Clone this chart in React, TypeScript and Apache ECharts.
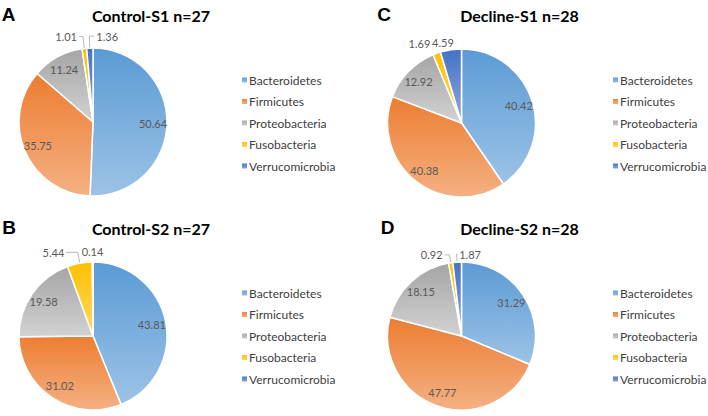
import React, { useEffect, useRef } from "react";
import * as echarts from "echarts";

const categories = ["Bacteroidetes", "Firmicutes", "Proteobacteria", "Fusobacteria", "Verrucomicrobia"];
const controlS1 = [50.64, 35.75, 11.24, 1.01, 1.36];
const controlS2 = [43.81, 31.02, 19.58, 5.44, 0.14];
const declineS1 = [40.42, 40.38, 12.92, 1.69, 4.59];
const declineS2 = [31.29, 47.77, 18.15, 0.92, 1.87];
const panelTitles = ["Control-S1 n=27", "Control-S2 n=27", "Decline-S1 n=28", "Decline-S2 n=28"];
const panelLetters = ["A", "B", "C", "D"];
const panelValues = [controlS1, controlS2, declineS1, declineS2];

const GRADS: [string, string][] = [
  ["#5B9BD5", "#9DC3E6"],
  ["#ED7D31", "#F4B183"],
  ["#A5A5A5", "#D2D2D2"],
  ["#FFC000", "#FFD966"],
  ["#4472C4", "#8FAADC"],
];

const R = 74;
const FONT = "Lato, 'Open Sans', sans-serif";

const LAYOUT = [
  { cx: 93, cy: 122, legendLeft: 240, legendTop: 73, titleX: 151, titleY: 15, letterX: 8.5, letterY: 14 },
  { cx: 93, cy: 336, legendLeft: 240, legendTop: 286, titleX: 151, titleY: 228, letterX: 9, letterY: 227 },
  { cx: 461.5, cy: 123, legendLeft: 611, legendTop: 73, titleX: 519.5, titleY: 15, letterX: 384, letterY: 14 },
  { cx: 461.5, cy: 336, legendLeft: 611, legendTop: 286, titleX: 519.5, titleY: 228, letterX: 387.5, letterY: 227 },
];

// outside-label tuning per panel (index -> style)
type SmallCfg = { side: number; len: number; len2: number; gap: number; line: boolean };
const SMALL: Record<number, SmallCfg>[] = [
  { 3: { side: -1, len: 12, len2: 4, gap: 2, line: true }, 4: { side: 1, len: 12, len2: 5, gap: 2, line: true } },
  { 3: { side: -1, len: 11, len2: 12, gap: 1.5, line: true }, 4: { side: 1, len: 11, len2: 0, gap: -11, line: false } },
  { 3: { side: -1, len: 10, len2: 0, gap: 3, line: false }, 4: { side: -1, len: 7, len2: 0, gap: -4, line: false } },
  { 3: { side: -1, len: 8, len2: 5, gap: 2, line: true }, 4: { side: 1, len: 8, len2: 1, gap: 1.5, line: true } },
];

const grad = (i: number) =>
  new echarts.graphic.LinearGradient(0, 0, 0, 1, [
    { offset: 0, color: GRADS[i][0] },
    { offset: 1, color: GRADS[i][1] },
  ]);

function buildOption() {
  const series: any[] = [];
  const overlays: any[] = [];
  const legends: any[] = [];
  const graphics: any[] = [];

  panelValues.forEach((vals, p) => {
    const L = LAYOUT[p];
    const small = SMALL[p];
    series.push({
      type: "pie",
      center: [L.cx, L.cy],
      radius: [0, R],
      startAngle: 90,
      clockwise: true,
      avoidLabelOverlap: false,
      silent: true,
      emphasis: { disabled: true },
      itemStyle: { borderColor: "#ffffff", borderWidth: 1.5 },
      label: {
        show: true,
        position: "outside",
        color: "#595959",
        fontFamily: FONT,
        fontSize: 11,
        formatter: (d: any) => Number(d.value).toFixed(2),
      },
      labelLine: { show: true, length: 10, length2: 0, smooth: false, lineStyle: { color: "#a6a6a6", width: 0.8 } },
      labelLayout: (prm: any) => {
        const c = small[prm.dataIndex];
        const pts = prm.labelLinePoints;
        if (!c || !pts) return {};
        const p0 = pts[0];
        const p1 = pts[1];
        const x2 = p1[0] + c.side * c.len2;
        return {
          x: x2 + c.side * c.gap,
          y: p1[1],
          align: c.side > 0 ? "left" : "right",
          verticalAlign: "middle",
          labelLinePoints: [
            [p0[0], p0[1]],
            [p1[0], p1[1]],
            [x2, p1[1]],
          ],
        };
      },
      data: vals.map((v, i) => {
        const c = small[i];
        return {
          name: categories[i],
          value: v,
          itemStyle: { color: grad(i) },
          label: { show: !!c },
          labelLine: c
            ? { show: true, length: c.len, length2: 0, lineStyle: { opacity: c.line ? 1 : 0 } }
            : { show: false },
        };
      }),
    });
    overlays.push({
      type: "pie",
      center: [L.cx, L.cy],
      radius: [R * 0.54, R],
      startAngle: 90,
      clockwise: true,
      silent: true,
      emphasis: { disabled: true },
      itemStyle: { color: "rgba(0,0,0,0)", borderWidth: 0 },
      label: {
        show: true,
        position: "inside",
        color: "#595959",
        fontFamily: FONT,
        fontSize: 11,
        formatter: (d: any) => Number(d.value).toFixed(2),
      },
      labelLine: { show: false },
      data: vals.map((v, i) => ({
        name: categories[i],
        value: v,
        label: { show: !small[i] },
      })),
    });
    legends.push({
      orient: "vertical",
      left: L.legendLeft,
      top: L.legendTop,
      padding: 0,
      itemWidth: 7,
      itemHeight: 7,
      itemGap: 7.5,
      icon: "rect",
      selectedMode: false,
      textStyle: { color: "#404040", fontFamily: FONT, fontSize: 12, lineHeight: 14, padding: [0, 0, 0, -4] },
      data: categories.map((n, i) => ({ name: n, itemStyle: { color: grad(i) } })),
    });
    graphics.push({
      type: "text",
      x: L.titleX,
      y: L.titleY,
      style: { text: panelTitles[p], align: "center", verticalAlign: "middle", fill: "#000", font: `bold 16px ${FONT}` },
    });
    graphics.push({
      type: "text",
      x: L.letterX,
      y: L.letterY,
      style: {
        text: panelLetters[p],
        align: "center",
        verticalAlign: "middle",
        fill: "#000",
        font: "bold 19px 'Liberation Sans', Arial, sans-serif",
      },
    });
  });

  return {
    animation: false,
    backgroundColor: "#ffffff",
    legend: legends,
    series: [...series, ...overlays],
    graphic: graphics,
  };
}

export default function App() {
  const ref = useRef<HTMLDivElement>(null);
  useEffect(() => {
    if (!ref.current) return;
    const chart = echarts.init(ref.current, undefined, { renderer: "svg" });
    chart.setOption(buildOption() as any);
    return () => chart.dispose();
  }, []);
  return <div ref={ref} style={{ position: "absolute", left: 0, top: 0, width: 708, height: 416 }} />;
}
